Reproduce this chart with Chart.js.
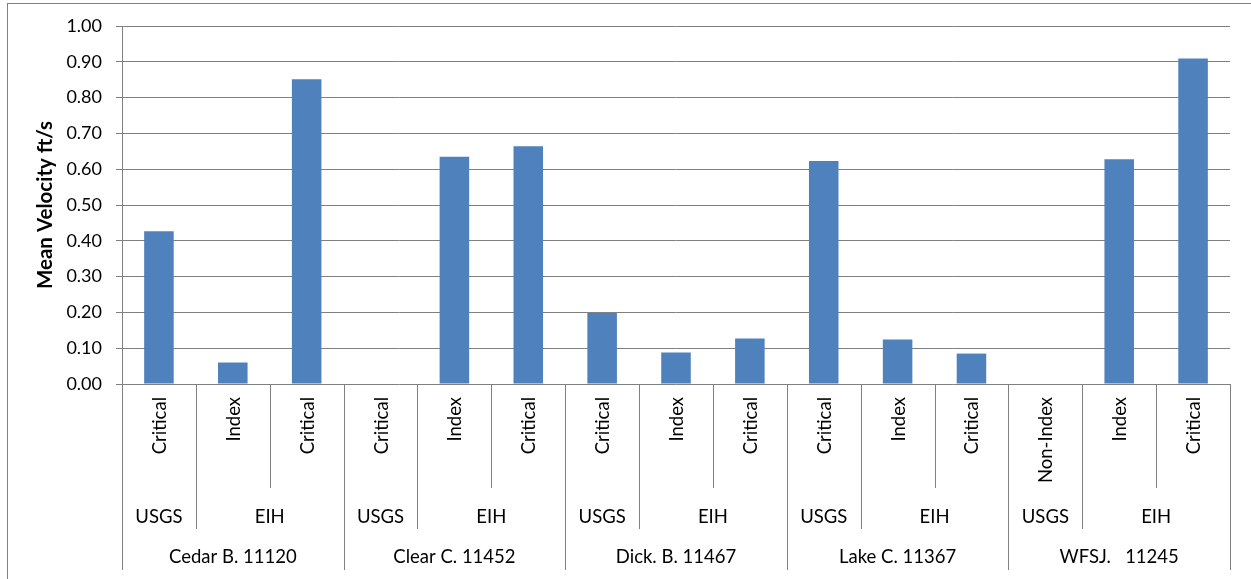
<!DOCTYPE html>
<html>
<head>
<meta charset="utf-8">
<script src="https://cdn.jsdelivr.net/npm/chart.js@4.4.1/dist/chart.umd.min.js"></script>
<style>
  html, body { margin: 0; padding: 0; background: #fff; }
  canvas { display: block; }
</style>
</head>
<body>
<canvas id="myChart" width="1251" height="579"></canvas>
<script>
// chart data
const siteNames = ['Cedar B. 11120', 'Clear C. 11452', 'Dick. B. 11467', 'Lake C. 11367', 'WFSJ.   11245'];
const siteOfBar = [0, 0, 0, 1, 1, 1, 2, 2, 2, 3, 3, 3, 4, 4, 4];
const sourceOfBar = ['USGS', 'EIH', 'EIH', 'USGS', 'EIH', 'EIH', 'USGS', 'EIH', 'EIH',
                     'USGS', 'EIH', 'EIH', 'USGS', 'EIH', 'EIH'];
const reachTypes = ['Critical', 'Index', 'Critical', 'Critical', 'Index', 'Critical',
                    'Critical', 'Index', 'Critical', 'Critical', 'Index', 'Critical',
                    'Non-Index', 'Index', 'Critical'];
const meanVelocity = [0.427, 0.06, 0.851, null, 0.635, 0.664, 0.198, 0.088, 0.127,
                      0.623, 0.124, 0.085, null, 0.628, 0.909];

const FONT = 'Lato';
const GRID = '#808080';

// draws the three-level category axis below the plot
const multiLevelAxis = {
  id: 'multiLevelAxis',
  beforeDraw(chart) {
    const c = chart.ctx;
    c.save();
    c.strokeStyle = GRID;
    c.lineWidth = 1;
    c.strokeRect(7.5, 3.5, 1400, 800);
    c.restore();
  },
  afterDraw(chart) {
    const c = chart.ctx;
    const x = chart.scales.x;
    const area = chart.chartArea;
    const n = reachTypes.length;
    const w = (area.right - area.left) / n;
    const base = Math.round(area.bottom);

    c.save();
    c.strokeStyle = GRID;
    c.lineWidth = 1;
    for (let i = 0; i <= n; i++) {
      let depth = 488;
      if (i === 0 || i === n || siteOfBar[i] !== siteOfBar[i - 1]) depth = 570;
      else if (sourceOfBar[i] !== sourceOfBar[i - 1]) depth = 529;
      const px = Math.round(area.left + i * w) + 0.5;
      c.beginPath();
      c.moveTo(px, base);
      c.lineTo(px, depth);
      c.stroke();
    }

    c.fillStyle = '#000';
    c.font = '18.5px ' + FONT;

    // rotated reach type labels
    reachTypes.forEach((t, i) => {
      const cx = x.getPixelForValue(i);
      c.save();
      c.translate(cx + 1, 397);
      c.rotate(-Math.PI / 2);
      c.textAlign = 'right';
      c.textBaseline = 'middle';
      c.fillText(t, 0, 0);
      c.restore();
    });

    c.textAlign = 'center';
    c.textBaseline = 'middle';

    // source groups
    let start = 0;
    for (let i = 1; i <= n; i++) {
      if (i === n || sourceOfBar[i] !== sourceOfBar[start] || siteOfBar[i] !== siteOfBar[start]) {
        const mid = area.left + ((start + i) / 2) * w;
        c.fillText(sourceOfBar[start], mid, 517);
        start = i;
      }
    }

    // sites
    siteNames.forEach((s, k) => {
      const idx = siteOfBar.map((v, i) => v === k ? i : -1).filter(i => i >= 0);
      const mid = area.left + ((idx[0] + idx[idx.length - 1] + 1) / 2) * w;
      c.fillText(s, mid, 557);
    });
    c.restore();
  }
};

const ctx = document.getElementById('myChart').getContext('2d');
const myChart = new Chart(ctx, {
  type: 'bar',
  data: {
    labels: reachTypes,
    datasets: [{
      label: 'Mean Velocity',
      data: meanVelocity,
      backgroundColor: '#4F81BD',
      barPercentage: 0.4,
      categoryPercentage: 1.0
    }]
  },
  options: {
    responsive: false,
    animation: false,
    layout: {
      padding: { top: 26, right: 21, left: 0, bottom: 0 }
    },
    plugins: {
      legend: { display: false },
      tooltip: { enabled: false }
    },
    scales: {
      x: {
        ticks: { display: false },
        grid: { display: false },
        border: { display: false },
        afterFit(scale) { scale.height = 195; }
      },
      y: {
        min: 0,
        max: 1,
        ticks: {
          stepSize: 0.1,
          padding: 14,
          color: '#000',
          font: { family: FONT, size: 18 },
          callback: v => v.toFixed(2)
        },
        grid: { color: GRID, lineWidth: 1, tickLength: 6 },
        border: { color: GRID },
        title: {
          display: true,
          text: 'Mean Velocity ft/s',
          color: '#000',
          font: { family: FONT, size: 20.5, weight: 'bold' },
          padding: { top: 33, bottom: 0 }
        },
        afterFit(scale) { scale.width = 122; }
      }
    }
  },
  plugins: [multiLevelAxis]
});
</script>
</body>
</html>
